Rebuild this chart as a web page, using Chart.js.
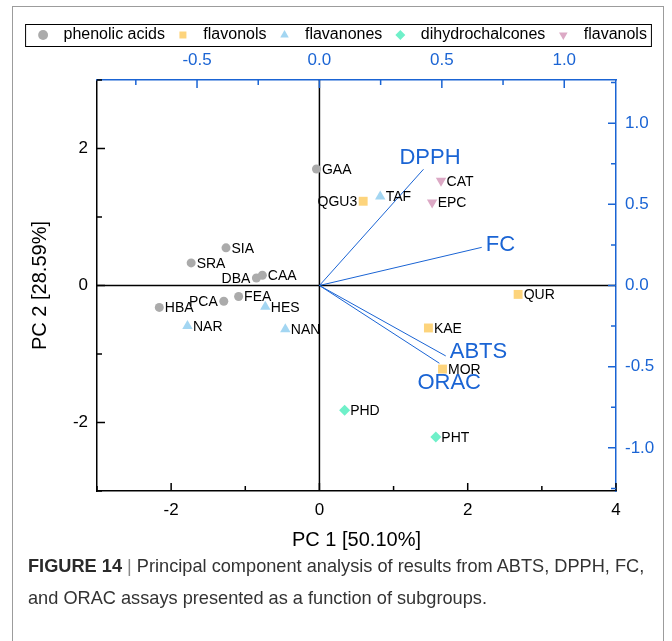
<!DOCTYPE html>
<html>
<head>
<meta charset="utf-8">
<script src="https://cdn.jsdelivr.net/npm/chart.js@4.4.1/dist/chart.umd.min.js"></script>
<style>
  html, body { margin: 0; padding: 0; background: #fff; }
  body { width: 672px; height: 641px; position: relative; overflow: hidden; font-family: "Liberation Sans", Arial, sans-serif; }
  #frame { position: absolute; left: 12px; top: 6px; width: 652px; height: 660px; border: 1px solid #9c9c9c; box-sizing: border-box; }
  #wrap { position: absolute; left: 0; top: 0; width: 672px; height: 641px; }
  #caption { position: absolute; left: 28px; top: 550px; font-size: 18.2px; line-height: 32px; color: #333; white-space: nowrap; }
  #caption b { color: #2a2a2a; }
  #caption .bar { color: #888; }
</style>
</head>
<body>
<div id="frame"></div>
<div id="wrap"><canvas id="pcaChart"></canvas></div>
<div id="caption"><b>FIGURE 14</b> <span class="bar">|</span> Principal component analysis of results from ABTS, DPPH, FC,<br>and ORAC assays presented as a function of subgroups.</div>
<script>
// scores (PC1 / PC2) per subgroup
const groupNames = ['phenolic acids', 'flavonols', 'flavanones', 'dihydrochalcones', 'flavanols'];

const phenolicNames = ['GAA', 'SIA', 'SRA', 'DBA', 'CAA', 'HBA', 'PCA', 'FEA'];
const phenolicPC1 = [-0.04, -1.26, -1.73, -0.85, -0.77, -2.16, -1.29, -1.09];
const phenolicPC2 = [1.70, 0.55, 0.33, 0.11, 0.15, -0.32, -0.23, -0.16];

const flavonolNames = ['QGU3', 'QUR', 'KAE', 'MOR'];
const flavonolPC1 = [0.59, 2.68, 1.47, 1.66];
const flavonolPC2 = [1.23, -0.13, -0.62, -1.22];

const flavanoneNames = ['TAF', 'HES', 'NAR', 'NAN'];
const flavanonePC1 = [0.82, -0.73, -1.78, -0.46];
const flavanonePC2 = [1.30, -0.31, -0.59, -0.64];

const dihydroNames = ['PHD', 'PHT'];
const dihydroPC1 = [0.34, 1.57];
const dihydroPC2 = [-1.82, -2.21];

const flavanolNames = ['CAT', 'EPC'];
const flavanolPC1 = [1.64, 1.52];
const flavanolPC2 = [1.53, 1.21];

// loadings of the assays (top / right axes)
const assayNames = ['DPPH', 'FC', 'ABTS', 'ORAC'];
const loadingPC1 = [0.425, 0.663, 0.516, 0.49];
const loadingPC2 = [0.716, 0.235, -0.434, -0.479];

const blue = '#1a64d4';
const fontFamily = '"Liberation Sans", Arial, sans-serif';

// labels that sit left of their marker
const leftLabels = ['PCA', 'DBA', 'QGU3'];
// pixel offsets of the assay names from the arrow tips
const assayLabelOffset = { DPPH: [-24, -11], FC: [4, -2], ABTS: [4, -4], ORAC: [-22, 20] };

function scoreSet(label, names, xs, ys, style, color, radius, rotation) {
  return {
    label: label,
    names: names,
    data: xs.map((x, i) => ({ x: x, y: ys[i] })),
    pointStyle: style,
    rotation: rotation || 0,
    backgroundColor: color,
    borderColor: color,
    borderWidth: 0,
    pointRadius: radius,
    pointHoverRadius: radius,
    xAxisID: 'x',
    yAxisID: 'y'
  };
}

const datasets = [
  scoreSet(groupNames[0], phenolicNames, phenolicPC1, phenolicPC2, 'circle', '#ababab', 4.5),
  scoreSet(groupNames[1], flavonolNames, flavonolPC1, flavonolPC2, 'rect', '#fdd47c', 6.3),
  scoreSet(groupNames[2], flavanoneNames, flavanonePC1, flavanonePC2, 'triangle', '#a3d6f2', 6),
  scoreSet(groupNames[3], dihydroNames, dihydroPC1, dihydroPC2, 'rectRot', '#6ff0c9', 5.5),
  scoreSet(groupNames[4], flavanolNames, flavanolPC1, flavanolPC2, 'triangle', '#dca9c5', 6, 180)
];

assayNames.forEach((name, i) => {
  datasets.push({
    label: name,
    assay: true,
    data: [{ x: 0, y: 0 }, { x: loadingPC1[i], y: loadingPC2[i] }],
    showLine: true,
    borderColor: blue,
    borderWidth: 1,
    pointRadius: 0,
    pointHoverRadius: 0,
    xAxisID: 'x2',
    yAxisID: 'y2'
  });
});

function isStep(v, step) {
  const r = v / step;
  return Math.abs(r - Math.round(r)) < 1e-6;
}

// zero lines, inward tick marks, point and assay labels, legend frame
const pcaDecor = {
  id: 'pcaDecor',
  beforeDatasetsDraw(chart) {
    const { ctx, chartArea: a, scales } = chart;
    ctx.save();
    ctx.strokeStyle = '#000';
    ctx.lineWidth = 1.5;
    const x0 = scales.x.getPixelForValue(0);
    const y0 = scales.y.getPixelForValue(0);
    ctx.beginPath();
    ctx.moveTo(x0, a.top); ctx.lineTo(x0, a.bottom);
    ctx.moveTo(a.left, y0); ctx.lineTo(a.right, y0);
    ctx.stroke();

    const axes = [
      { s: scales.x, minor: 1, major: 2, color: '#000' },
      { s: scales.y, minor: 1, major: 2, color: '#000' },
      { s: scales.x2, minor: 0.25, major: 0.5, color: blue },
      { s: scales.y2, minor: 0.25, major: 0.5, color: blue }
    ];
    axes.forEach(ax => {
      ctx.strokeStyle = ax.color;
      ctx.beginPath();
      ax.s.ticks.forEach(t => {
        if (!isStep(t.value, ax.minor)) return;
        const len = isStep(t.value, ax.major) ? 8 : 5;
        const p = ax.s.getPixelForValue(t.value);
        if (ax.s.position === 'bottom') { ctx.moveTo(p, a.bottom); ctx.lineTo(p, a.bottom - len); }
        if (ax.s.position === 'top') { ctx.moveTo(p, a.top); ctx.lineTo(p, a.top + len); }
        if (ax.s.position === 'left') { ctx.moveTo(a.left, p); ctx.lineTo(a.left + len, p); }
        if (ax.s.position === 'right') { ctx.moveTo(a.right, p); ctx.lineTo(a.right - len, p); }
      });
      ctx.stroke();
    });
    ctx.restore();
  },
  afterDatasetsDraw(chart) {
    const { ctx } = chart;
    ctx.save();
    ctx.textBaseline = 'middle';
    chart.data.datasets.forEach((ds, i) => {
      const meta = chart.getDatasetMeta(i);
      if (ds.names) {
        ctx.font = '14px ' + fontFamily;
        ctx.fillStyle = '#000';
        ds.names.forEach((name, j) => {
          const pt = meta.data[j];
          if (leftLabels.includes(name)) {
            ctx.textAlign = 'right';
            ctx.fillText(name, pt.x - 6, pt.y + 1);
          } else {
            ctx.textAlign = 'left';
            ctx.fillText(name, pt.x + 5.5, pt.y + 1);
          }
        });
      } else if (ds.assay) {
        const tip = meta.data[1];
        const off = assayLabelOffset[ds.label];
        ctx.font = '22px ' + fontFamily;
        ctx.fillStyle = blue;
        ctx.textAlign = 'left';
        ctx.fillText(ds.label, tip.x + off[0], tip.y + off[1]);
      }
    });
    ctx.restore();
  },
  afterDraw(chart) {
    const hb = chart.legend.legendHitBoxes;
    if (!hb || !hb.length) return;
    const { ctx } = chart;
    const left = Math.min(...hb.map(b => b.left)) - 10;
    const right = Math.max(...hb.map(b => b.left + b.width)) + 4;
    const top = hb[0].top - 3;
    ctx.save();
    ctx.strokeStyle = '#000';
    ctx.lineWidth = 1;
    ctx.strokeRect(left + 0.5, top + 0.5, right - left, hb[0].height + 6);
    ctx.restore();
  }
};

const tickFont = { family: fontFamily, size: 17 };

const chartPca = new Chart(document.getElementById('pcaChart'), {
  type: 'scatter',
  data: { datasets: datasets },
  plugins: [pcaDecor],
  options: {
    responsive: true,
    maintainAspectRatio: false,
    animation: false,
    layout: { padding: { top: 17, left: 10, right: 0, bottom: 80 } },
    plugins: {
      tooltip: { enabled: false },
      legend: {
        position: 'top',
        labels: {
          usePointStyle: true,
          boxWidth: 16,
          boxHeight: 7,
          padding: 10,
          color: '#000',
          font: { family: fontFamily, size: 16 },
          generateLabels(chart) {
            const items = Chart.defaults.plugins.legend.labels.generateLabels(chart);
            return items
              .filter(it => it.datasetIndex < groupNames.length)
              .map(it => Object.assign(it, { text: ' ' + it.text, lineWidth: 0 }));
          }
        }
      }
    },
    scales: {
      x: {
        type: 'linear', position: 'bottom', min: -3, max: 4,
        grid: { display: false, drawTicks: false },
        border: { display: true, color: '#000', width: 1.5 },
        ticks: { stepSize: 1, autoSkip: false, maxRotation: 0, padding: 9, color: '#000', font: tickFont,
          callback: v => isStep(v, 2) ? String(v) : '' },
        title: { display: true, text: 'PC 1 [50.10%]', color: '#000', font: { family: fontFamily, size: 20 }, padding: { top: 0, bottom: 9 } },
        afterFit: s => { s.height = 70; }
      },
      y: {
        type: 'linear', position: 'left', min: -3, max: 3,
        grid: { display: false, drawTicks: false },
        border: { display: true, color: '#000', width: 1.5 },
        ticks: { stepSize: 1, autoSkip: false, padding: 9, color: '#000', font: tickFont,
          callback: v => isStep(v, 2) ? String(v) : '' },
        title: { display: true, text: 'PC 2 [28.59%]', color: '#000', font: { family: fontFamily, size: 20 }, padding: { top: 18, bottom: 0 } },
        afterFit: s => { s.width = 87; }
      },
      x2: {
        type: 'linear', position: 'top', min: -0.9086, max: 1.2114,
        grid: { display: false, drawTicks: false },
        border: { display: true, color: blue, width: 1.5 },
        ticks: { stepSize: 0.25, includeBounds: false, autoSkip: false, maxRotation: 0, padding: 9, color: blue, font: tickFont,
          callback: v => isStep(v, 0.5) ? v.toFixed(1) : '' },
        afterFit: s => { s.height = 27; }
      },
      y2: {
        type: 'linear', position: 'right', min: -1.266, max: 1.266,
        grid: { display: false, drawTicks: false },
        border: { display: true, color: blue, width: 1.5 },
        ticks: { stepSize: 0.25, includeBounds: false, autoSkip: false, padding: 9, color: blue, font: tickFont,
          callback: v => isStep(v, 0.5) ? v.toFixed(1) : '' },
        afterFit: s => { s.width = 56; }
      }
    }
  }
});
</script>
</body>
</html>
